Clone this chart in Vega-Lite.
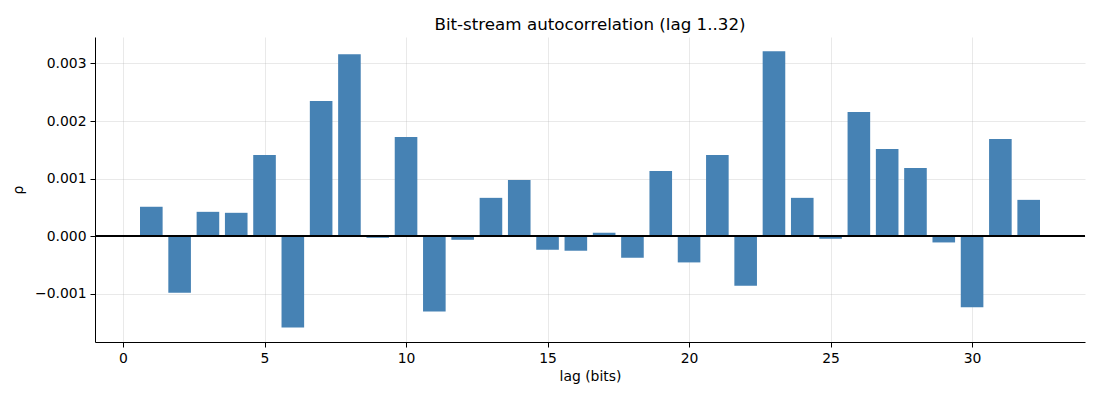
{
  "$schema": "https://vega.github.io/schema/vega-lite/v6.json",
  "autosize": {"type": "none"},
  "width": 990,
  "height": 305,
  "padding": {"left": 95, "top": 37, "right": 15, "bottom": 58},
  "background": "white",
  "title": {
    "text": "Bit-stream autocorrelation (lag 1..32)",
    "font": "DejaVu Sans",
    "fontSize": 16.7,
    "fontWeight": "normal",
    "color": "black",
    "anchor": "middle",
    "offset": 3
  },
  "config": {
    "view": {"stroke": null},
    "axis": {
      "labelFont": "DejaVu Sans",
      "labelFontSize": 13.9,
      "labelColor": "black",
      "titleFont": "DejaVu Sans",
      "titleFontSize": 13.9,
      "titleFontWeight": "normal",
      "titleColor": "black",
      "domainColor": "black",
      "domainWidth": 1,
      "tickColor": "black",
      "tickSize": 5,
      "labelPadding": 4,
      "gridColor": "#b0b0b0",
      "gridOpacity": 0.35,
      "gridWidth": 0.8
    }
  },
  "data": {
    "values": [
      {"lag": 1, "rho": 0.00051},
      {"lag": 2, "rho": -0.000983},
      {"lag": 3, "rho": 0.000422},
      {"lag": 4, "rho": 0.000405},
      {"lag": 5, "rho": 0.00141},
      {"lag": 6, "rho": -0.00159},
      {"lag": 7, "rho": 0.002347},
      {"lag": 8, "rho": 0.003162},
      {"lag": 9, "rho": -0.000029},
      {"lag": 10, "rho": 0.001723},
      {"lag": 11, "rho": -0.001312},
      {"lag": 12, "rho": -0.000064},
      {"lag": 13, "rho": 0.000665},
      {"lag": 14, "rho": 0.000977},
      {"lag": 15, "rho": -0.000237},
      {"lag": 16, "rho": -0.000254},
      {"lag": 17, "rho": 0.000058},
      {"lag": 18, "rho": -0.000376},
      {"lag": 19, "rho": 0.001133},
      {"lag": 20, "rho": -0.000457},
      {"lag": 21, "rho": 0.00141},
      {"lag": 22, "rho": -0.000861},
      {"lag": 23, "rho": 0.003214},
      {"lag": 24, "rho": 0.000665},
      {"lag": 25, "rho": -0.000046},
      {"lag": 26, "rho": 0.002156},
      {"lag": 27, "rho": 0.001514},
      {"lag": 28, "rho": 0.001185},
      {"lag": 29, "rho": -0.00011},
      {"lag": 30, "rho": -0.001237},
      {"lag": 31, "rho": 0.001688},
      {"lag": 32, "rho": 0.00063}
    ]
  },
  "layer": [
    {
      "mark": {"type": "bar", "color": "steelblue", "width": 22.6},
      "encoding": {
        "x": {
          "field": "lag",
          "type": "quantitative",
          "title": "lag (bits)",
          "scale": {"domain": [-0.99, 33.99], "nice": false, "zero": false, "padding": 0},
          "axis": {"values": [0, 5, 10, 15, 20, 25, 30], "format": "d", "titlePadding": 5}
        },
        "y": {
          "field": "rho",
          "type": "quantitative",
          "title": "ρ",
          "scale": {"domain": [-0.00184, 0.00346], "nice": false, "zero": false},
          "axis": {"values": [-0.001, 0, 0.001, 0.002, 0.003], "format": ".3f", "titlePadding": 9}
        }
      }
    },
    {
      "mark": {"type": "rule", "color": "black", "strokeWidth": 0.8},
      "encoding": {"y": {"datum": 0}}
    }
  ]
}
